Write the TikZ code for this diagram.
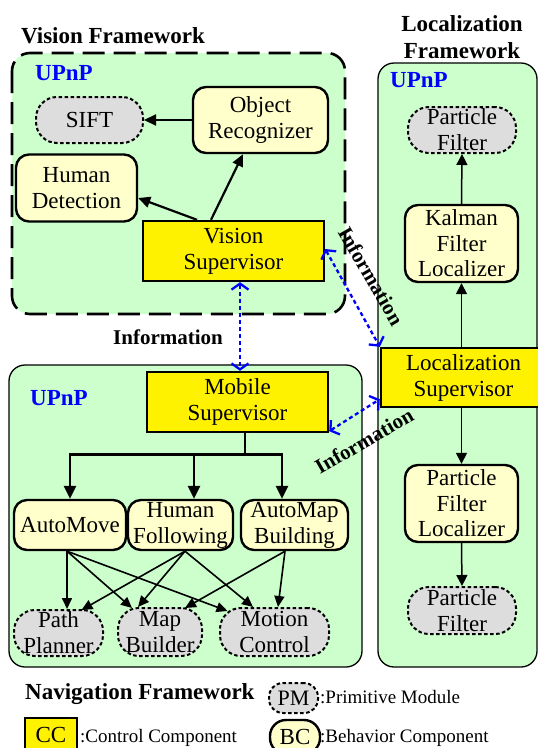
\documentclass[tikz,border=0pt]{standalone}
\usepackage{fontspec}
\setmainfont{Liberation Serif}
\usetikzlibrary{arrows.meta,calc}
\definecolor{ngreen}{RGB}{204,255,204}
\definecolor{lyel}{RGB}{255,255,204}
\definecolor{lgray}{RGB}{221,221,221}
\definecolor{ublue}{RGB}{0,0,255}
\begin{document}
\begin{tikzpicture}[x=1pt,y=-1pt,
  every node/.style={font=\fontsize{23}{26}\selectfont, align=center, inner sep=0pt},
  frame/.style={draw, fill=ngreen, rounded corners=16pt, line width=1.3pt},
  vframe/.style={draw, fill=ngreen, rounded corners=18pt, line width=2.6pt, dash pattern=on 22pt off 9pt},
  ccbox/.style={draw, fill=yellow, line width=2.4pt},
  bcbox/.style={draw, fill=lyel, line width=2.4pt, rounded corners=13pt},
  pmbox/.style={draw, fill=lgray, line width=2pt, dash pattern=on 3.5pt off 2.5pt, rounded corners=21pt},
  ttl/.style={font=\bfseries\fontsize{23}{27}\selectfont},
  upnp/.style={font=\bfseries\fontsize{23}{26}\selectfont, text=ublue, anchor=base west},
  lgd/.style={font=\fontsize{19}{22}\selectfont, anchor=base west},
  arr/.style={line width=2.2pt, -{Triangle[length=12pt,width=11pt]}},
  larr/.style={line width=1.5pt, -{Triangle[length=11pt,width=11pt]}},
  tarr/.style={line width=2.8pt, -{Triangle[length=13pt,width=12pt]}},
  narr/.style={line width=1.6pt, -{Triangle[length=11pt,width=10pt]}},
  info/.style={ublue, line width=2.3pt, dash pattern=on 4pt off 3pt,
    {Straight Barb[length=6pt,width=17pt,line width=2.3pt]}-{Straight Barb[length=6pt,width=17pt,line width=2.3pt]}},
  inflbl/.style={font=\bfseries\fontsize{21}{24}\selectfont}
]
\useasboundingbox (0,0) rectangle (538,748);
\clip (0,0) rectangle (538,748);
\fill[white] (0,0) rectangle (538,748);

% frames
\draw[vframe] (12,53) rectangle (345,314);
\draw[frame] (9,365) rectangle (362,667);
\draw[frame] (378,63) rectangle (537,667);

% titles
\node[ttl, anchor=base] (vtitle) at (113,43) {Vision Framework};
\node[ttl] (ltitle) at (462,37) {Localization\\Framework};
\node[upnp] (u1) at (35,80) {UPnP};
\node[upnp] (u2) at (390,87) {UPnP};
\node[upnp] (u3) at (30,405) {UPnP};

% vision
\node[ccbox, minimum width=181pt, minimum height=60pt] (vs) at (233.5,251) {Vision\\Supervisor};
\node[bcbox, minimum width=135pt, minimum height=66pt] (or) at (260.5,120) {Object\\Recognizer};
\node[bcbox, minimum width=121pt, minimum height=67pt] (hd) at (76.5,188) {Human\\Detection};
\node[pmbox, minimum width=107pt, minimum height=46pt] (sift) at (89.5,120) {SIFT};
\draw[arr] ([xshift=-36.5pt]vs.north) -- ([yshift=-10pt]hd.east);
\draw[arr] ([xshift=-22.5pt]vs.north) -- ([xshift=-17.5pt]or.south);
\draw[arr] (or.west) -- (sift.east);

% localization
\node[pmbox, minimum width=108pt, minimum height=46pt] (pf1) at (462,130) {Particle\\Filter};
\node[bcbox, minimum width=113pt, minimum height=77pt, font=\fontsize{23}{25.5}\selectfont] (kf) at (461.5,243.5) {Kalman\\Filter\\Localizer};
\node[ccbox, minimum width=165pt, minimum height=59pt] (ls) at (463.5,377.5) {Localization\\Supervisor};
\node[bcbox, minimum width=113pt, minimum height=77pt, font=\fontsize{23}{25.5}\selectfont] (pfl) at (461.5,503.5) {Particle\\Filter\\Localizer};
\node[pmbox, minimum width=108pt, minimum height=47pt] (pf2) at (462,610.5) {Particle\\Filter};
\draw[larr] (kf.north) -- (pf1.south);
\draw[larr] (kf.south |- ls.north) -- (kf.south);
\draw[larr] (pfl.north |- ls.south) -- (pfl.north);
\draw[larr] (pfl.south) -- (pf2.north);

% navigation
\node[ccbox, minimum width=181pt, minimum height=60pt] (ms) at (237.5,402) {Mobile\\Supervisor};
\node[bcbox, minimum width=112pt, minimum height=50pt] (am) at (70,525) {AutoMove};
\node[bcbox, minimum width=105pt, minimum height=50pt] (hf) at (180.5,525) {Human\\Following};
\node[bcbox, minimum width=107pt, minimum height=50pt] (amb) at (294.5,525) {AutoMap\\Building};
\coordinate (bus) at ($(ms.south)+(7.5,21)$);
\draw[line width=2.8pt] ([xshift=7.5pt]ms.south) -- (bus);
\draw[line width=2.8pt, line cap=rect] (am.north |- bus) -- ([xshift=-12.5pt]amb.north |- bus);
\draw[tarr] (am.north |- bus) -- (am.north);
\draw[tarr] ([xshift=13.5pt]hf.north |- bus) -- ([xshift=13.5pt]hf.north);
\draw[tarr] ([xshift=-12.5pt]amb.north |- bus) -- ([xshift=-12.5pt]amb.north);

\node[pmbox, minimum width=89pt, minimum height=46pt] (pp) at (58.5,633) {Path\\Planner};
\node[pmbox, minimum width=84pt, minimum height=48pt] (mb) at (160,632) {Map\\Builder};
\node[pmbox, minimum width=109pt, minimum height=48pt] (mc) at (274.5,632) {Motion\\Control};

\draw[narr] ([xshift=-3pt]am.south) -- ([xshift=8.5pt]pp.north);
\draw[narr] ([xshift=-3pt]am.south) -- ([xshift=-28pt,yshift=-1pt]mb.north);
\draw[narr] ([xshift=-3pt]am.south) -- ([xshift=-47pt,yshift=-4pt]mc.north);
\draw[narr] ([xshift=4.5pt]hf.south) -- ([xshift=23pt,yshift=-1pt]pp.north);
\draw[narr] ([xshift=4.5pt]hf.south) -- ([xshift=-22pt]mb.north);
\draw[narr] ([xshift=4.5pt]hf.south) -- ([xshift=-21.5pt]mc.north);
\draw[narr] ([xshift=-9.5pt]amb.south) -- ([xshift=25pt,yshift=-1pt]mb.north);
\draw[narr] ([xshift=-9.5pt]amb.south) -- ([xshift=3.5pt]mc.north);

% information links
\draw[info] ([xshift=6.5pt]vs.south) -- ([xshift=2.5pt]ms.north);
\draw[info] ([yshift=2pt]vs.east) -- (ls.north west);
\draw[info] ([yshift=2pt]ms.south east) -- ([yshift=9pt]ls.south west);
\node[inflbl] (i1) at (168,337) {Information};
\node[inflbl, rotate=-60] (i2) at (371,276) {Information};
\node[inflbl, rotate=30] (i3) at (364,441) {Information};

% legend
\node[ttl, anchor=base west] (navt) at (25,699) {Navigation Framework};
\node[pmbox, minimum width=49pt, minimum height=30pt, rounded corners=14pt, font=\fontsize{22}{24}\selectfont] (lpm) at (293.5,698) {PM};
\node[lgd] (lpmt) at (320,703) {:Primitive Module};
\node[ccbox, minimum width=52pt, minimum height=33pt] (lcc) at (51,734.5) {CC};
\node[lgd] (lcct) at (80,742) {:Control Component};
\node[bcbox, minimum width=50pt, minimum height=34pt, rounded corners=16pt] (lbc) at (295,737) {BC};
\node[lgd] (lbct) at (320,742) {:Behavior Component};
\end{tikzpicture}
\end{document}
